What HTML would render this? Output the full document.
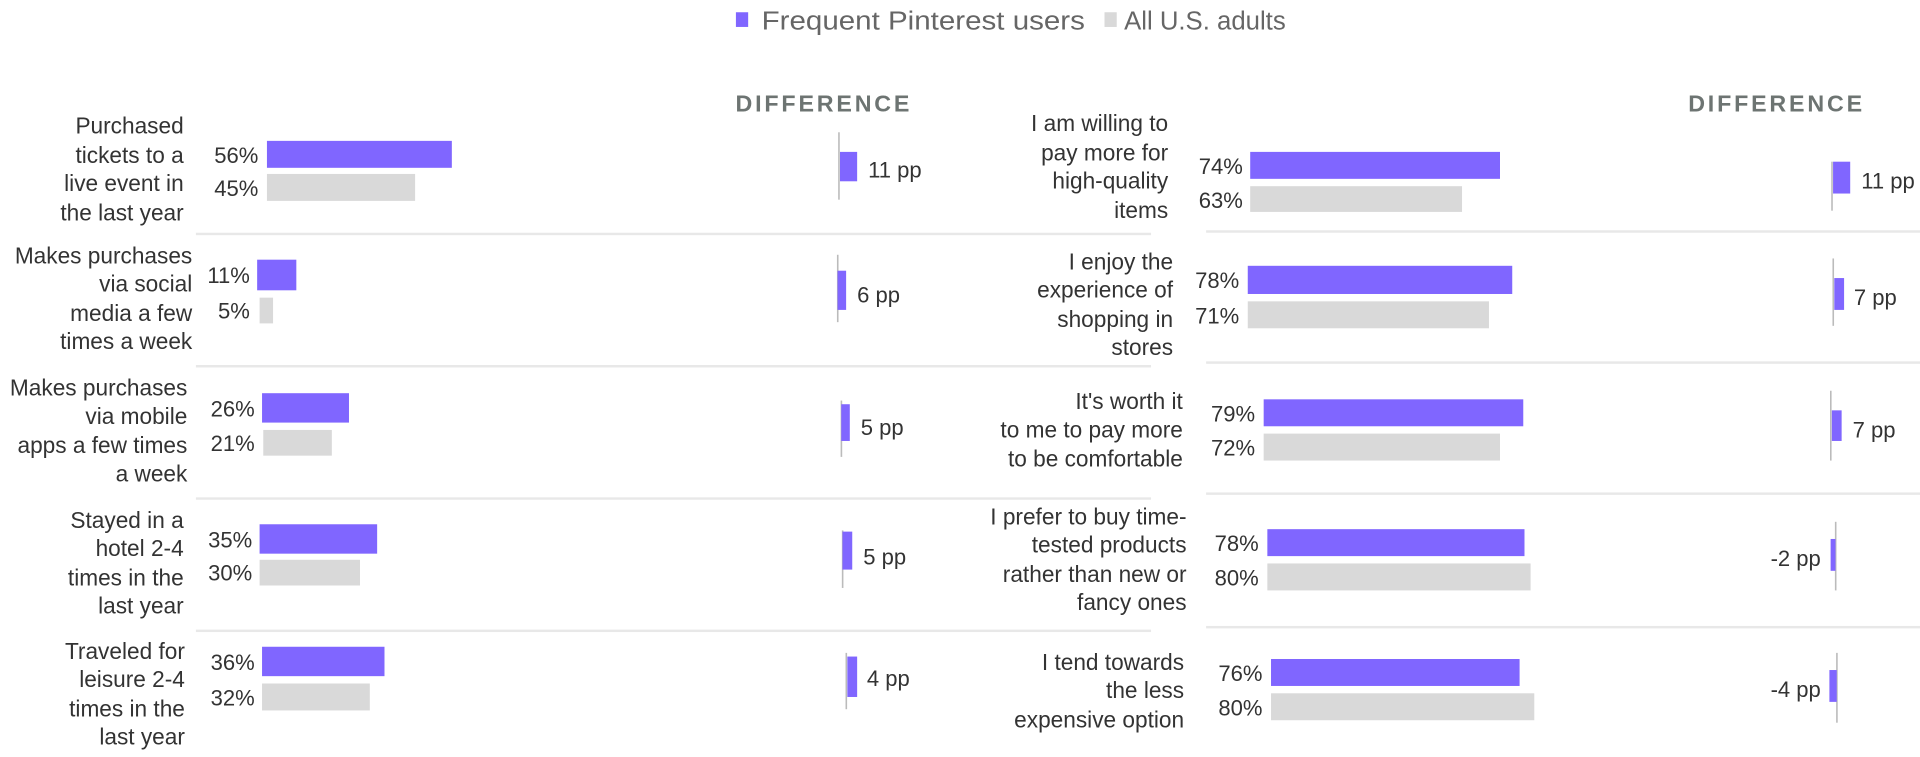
<!DOCTYPE html>
<html><head><meta charset="utf-8"><style>
html,body{margin:0;padding:0;background:#fff;}
svg{display:block;}
text{font-family:"Liberation Sans",sans-serif;}
.l{font-size:18.5px;fill:#333;text-anchor:end;}
.v{font-size:18px;fill:#333;text-anchor:end;}
.d{font-size:18px;fill:#333;}
.h{font-size:19px;font-weight:bold;fill:#6d7472;letter-spacing:2.3px;}
</style></head><body>
<svg width="1920" height="757" viewBox="0 0 1568 618" preserveAspectRatio="none">
<rect x="601" y="10" width="10" height="12" fill="#8066ff"/>
<text x="622" y="24" textLength="264" lengthAdjust="spacingAndGlyphs" style="font-size:21px;fill:#666">Frequent Pinterest users</text>
<rect x="902" y="10" width="10" height="12" fill="#d9d9d9"/>
<text x="918" y="24" textLength="132" lengthAdjust="spacingAndGlyphs" style="font-size:21px;fill:#666">All U.S. adults</text>

<text class="h" x="745" y="91" text-anchor="end">DIFFERENCE</text>
<text class="h" x="1523" y="91" text-anchor="end">DIFFERENCE</text>

<g fill="#e8e8e8">
<rect x="160" y="190" width="780" height="2"/><rect x="160" y="298" width="780" height="2"/>
<rect x="160" y="406" width="780" height="2"/><rect x="160" y="514" width="780" height="2"/>
<rect x="985" y="188" width="583" height="2"/><rect x="985" y="295" width="583" height="2"/>
<rect x="985" y="402" width="583" height="2"/><rect x="985" y="511" width="583" height="2"/>
</g>

<g class="l">
<text x="150" y="109">Purchased</text><text x="150" y="133">tickets to a</text><text x="150" y="156">live event in</text><text x="150" y="180">the last year</text>
<text x="157" y="215">Makes purchases</text><text x="157" y="238">via social</text><text x="157" y="262">media a few</text><text x="157" y="285">times a week</text>
<text x="153" y="323">Makes purchases</text><text x="153" y="346">via mobile</text><text x="153" y="370">apps a few times</text><text x="153" y="393">a week</text>
<text x="150" y="431">Stayed in a</text><text x="150" y="454">hotel 2-4</text><text x="150" y="478">times in the</text><text x="150" y="501">last year</text>
<text x="151" y="538">Traveled for</text><text x="151" y="561">leisure 2-4</text><text x="151" y="585">times in the</text><text x="151" y="608">last year</text>
</g>
<g class="v">
<text x="211" y="133">56%</text><text x="211" y="160">45%</text>
<text x="204" y="231">11%</text><text x="204" y="260">5%</text>
<text x="208" y="340">26%</text><text x="208" y="368">21%</text>
<text x="206" y="447">35%</text><text x="206" y="474">30%</text>
<text x="208" y="547">36%</text><text x="208" y="576">32%</text>
</g>
<g fill="#8066ff">
<rect x="218" y="115" width="151" height="22"/><rect x="210" y="212" width="32" height="25"/>
<rect x="214" y="321" width="71" height="24"/><rect x="212" y="428" width="96" height="24"/>
<rect x="214" y="528" width="100" height="24"/>
</g>
<g fill="#d9d9d9">
<rect x="218" y="142" width="121" height="22"/><rect x="212" y="243" width="11" height="21"/>
<rect x="215" y="351" width="56" height="21"/><rect x="212" y="457" width="82" height="21"/>
<rect x="214" y="558" width="88" height="22"/>
</g>
<g fill="#bbb">
<rect x="684.5" y="108" width="1.3" height="55"/><rect x="683.5" y="208" width="1.3" height="55"/>
<rect x="686.5" y="327" width="1.3" height="46"/><rect x="687.5" y="433" width="1.3" height="47"/>
<rect x="690.5" y="533" width="1.3" height="46"/>
<rect x="1495.5" y="132" width="1.3" height="40"/><rect x="1496.5" y="211" width="1.3" height="55"/>
<rect x="1494.5" y="319" width="1.3" height="57"/><rect x="1498.5" y="426" width="1.3" height="56"/>
<rect x="1499.5" y="533" width="1.3" height="57"/>
</g>
<g fill="#8066ff">
<rect x="686" y="124" width="14" height="24"/><rect x="684" y="221" width="7" height="32"/>
<rect x="687" y="330" width="7" height="30"/><rect x="688" y="434" width="8" height="31"/>
<rect x="692" y="536" width="8" height="33"/>
<rect x="1497" y="132" width="14" height="26"/><rect x="1498" y="227" width="8" height="26"/>
<rect x="1496" y="335" width="8" height="25"/><rect x="1495" y="440" width="4" height="26"/>
<rect x="1494" y="547" width="6" height="26"/>
</g>
<g class="d">
<text x="709" y="145">11 pp</text><text x="700" y="247">6 pp</text><text x="703" y="355">5 pp</text>
<text x="705" y="461">5 pp</text><text x="708" y="560">4 pp</text>
<text x="1520" y="154">11 pp</text><text x="1514" y="249">7 pp</text><text x="1513" y="357">7 pp</text>
<text x="1487" y="462" text-anchor="end">-2 pp</text><text x="1487" y="569" text-anchor="end">-4 pp</text>
</g>

<g class="l">
<text x="954" y="107">I am willing to</text><text x="954" y="131">pay more for</text><text x="954" y="154">high-quality</text><text x="954" y="178">items</text>
<text x="958" y="220">I enjoy the</text><text x="958" y="243">experience of</text><text x="958" y="267">shopping in</text><text x="958" y="290">stores</text>
<text x="966" y="334">It's worth it</text><text x="966" y="357">to me to pay more</text><text x="966" y="381">to be comfortable</text>
<text x="969" y="428">I prefer to buy time-</text><text x="969" y="451">tested products</text><text x="969" y="475">rather than new or</text><text x="969" y="498">fancy ones</text>
<text x="967" y="547">I tend towards</text><text x="967" y="570">the less</text><text x="967" y="594">expensive option</text>
</g>
<g class="v">
<text x="1015" y="142">74%</text><text x="1015" y="170">63%</text>
<text x="1012" y="235">78%</text><text x="1012" y="264">71%</text>
<text x="1025" y="344">79%</text><text x="1025" y="372">72%</text>
<text x="1028" y="450">78%</text><text x="1028" y="478">80%</text>
<text x="1031" y="556">76%</text><text x="1031" y="584">80%</text>
</g>
<g fill="#8066ff">
<rect x="1021" y="124" width="204" height="22"/><rect x="1019" y="217" width="216" height="23"/>
<rect x="1032" y="326" width="212" height="22"/><rect x="1035" y="432" width="210" height="22"/>
<rect x="1038" y="538" width="203" height="22"/>
</g>
<g fill="#d9d9d9">
<rect x="1021" y="152" width="173" height="21"/><rect x="1019" y="246" width="197" height="22"/>
<rect x="1032" y="354" width="193" height="22"/><rect x="1035" y="460" width="215" height="22"/>
<rect x="1038" y="566" width="215" height="22"/>
</g>
</svg>
</body></html>
